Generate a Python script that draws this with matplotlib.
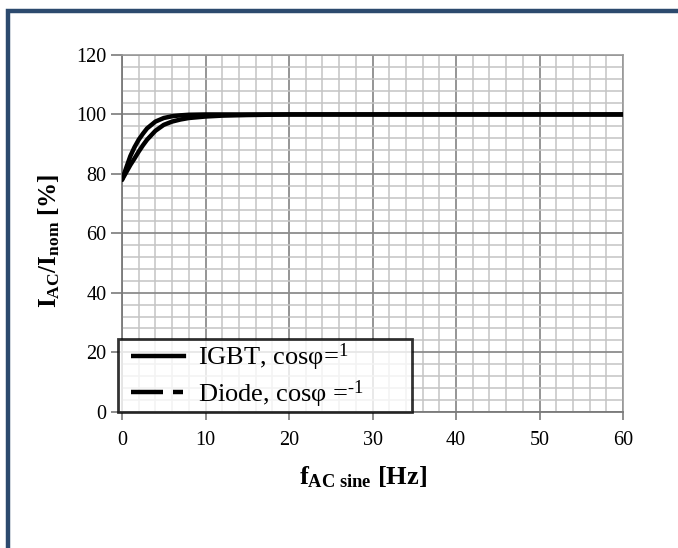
import matplotlib
matplotlib.use("Agg")
import matplotlib.pyplot as plt
from matplotlib.lines import Line2D
from matplotlib.patches import Rectangle
from matplotlib.ticker import MultipleLocator

plt.rcParams['font.family'] = ['Liberation Serif', 'DejaVu Serif']
plt.rcParams['mathtext.fontset'] = 'custom'
plt.rcParams['mathtext.rm'] = 'Liberation Serif'
plt.rcParams['mathtext.it'] = 'Liberation Serif:italic'
plt.rcParams['mathtext.bf'] = 'Liberation Serif:bold'

# Data
igbt_f = [0, 0.5, 1, 1.5, 2, 2.5, 3, 4, 5, 6, 7, 8, 10, 15, 20, 30, 40, 50, 60]
igbt_i = [78, 82, 86, 89, 91.5, 93.5, 95.3, 97.6, 98.8, 99.4, 99.7, 99.9, 100, 100, 100, 100, 100, 100, 100]
diode_f = [0, 0.5, 1, 1.5, 2, 2.5, 3, 4, 5, 6, 7, 8, 10, 12, 15, 20, 30, 40, 50, 60]
diode_i = [78, 80.5, 83, 85.2, 87.5, 89.6, 91.5, 94.5, 96.5, 97.6, 98.3, 98.8, 99.3, 99.6, 99.8, 100, 100, 100, 100, 100]
x_ticks = [0, 10, 20, 30, 40, 50, 60]
y_ticks = [0, 20, 40, 60, 80, 100, 120]
labels = ["IGBT, cosφ=$^{\\mathregular{1}}$", "Diode, cosφ =$^{\\mathregular{\u20101}}$"]

W, H = 678, 548
fig = plt.figure(figsize=(W / 100, H / 100), dpi=100)

# outer dark-blue frame
fig.patches.append(Rectangle((8 / W, -20 / H), (W + 40) / W, (H - 10.5 + 20) / H,
                             transform=fig.transFigure, fill=False,
                             edgecolor='#2C4A6E', linewidth=3.2, zorder=0))

ax = fig.add_axes([122 / W, 1 - 411.7 / H, (623 - 122) / W, (411.7 - 55) / H])

ax.plot(igbt_f, igbt_i, color='black', linewidth=3.2, solid_capstyle='round', zorder=5)
ax.plot(diode_f, diode_i, color='black', linewidth=3.2, solid_capstyle='round', zorder=5)

ax.set_xlim(0, 60)
ax.set_ylim(0, 120)
ax.set_xticks(x_ticks)
ax.set_yticks(y_ticks)
ax.xaxis.set_minor_locator(MultipleLocator(2))
ax.yaxis.set_minor_locator(MultipleLocator(4))
ax.grid(which='major', color='#8c8c8c', linewidth=1.3)
ax.grid(which='minor', color='#c4c4c4', linewidth=1.1)
ax.set_axisbelow(True)
for s in ['top', 'right']:
    ax.spines[s].set_color('#9a9a9a')
    ax.spines[s].set_linewidth(1.2)
for s in ['left', 'bottom']:
    ax.spines[s].set_color('#7a7a7a')
    ax.spines[s].set_linewidth(1.3)
ax.tick_params(which='major', direction='out', width=1.2, color='#7a7a7a',
               labelsize=14.5)
ax.tick_params(axis='y', which='major', length=8, pad=3)
ax.tick_params(axis='x', which='major', length=6, pad=8)
ax.tick_params(which='minor', length=0)

ax.set_ylabel(r"$\mathbf{I_{AC}/I_{nom}}$ [%]", fontsize=18, fontweight='bold')
ax.yaxis.set_label_coords(-0.12, 0.48)
ax.set_xlabel(r"$\mathbf{f_{AC\ sine}}$ [Hz]", fontsize=19, fontweight='bold')
ax.xaxis.set_label_coords(0.48, -0.148)

handles = [Line2D([], [], color='black', linewidth=3.2,
                  linestyle=(32.4, (12.4, 22.25))),
           Line2D([], [], color='black', linewidth=3.2,
                  linestyle=(31.7, (7.2, 2.25, 2.25, 22.25)))]
leg = ax.legend(handles, labels, loc='lower left',
                bbox_to_anchor=(-0.008, -0.002, 0.587, 0.2), mode='expand',
                fontsize=19, frameon=True, fancybox=False, handlelength=2.55,
                handletextpad=0.38, borderpad=0.1, labelspacing=0.2,
                borderaxespad=0)
leg.get_frame().set_edgecolor('black')
leg.get_frame().set_linewidth(2.0)
leg.set_zorder(10)

fig.savefig('out.png', dpi=100)
